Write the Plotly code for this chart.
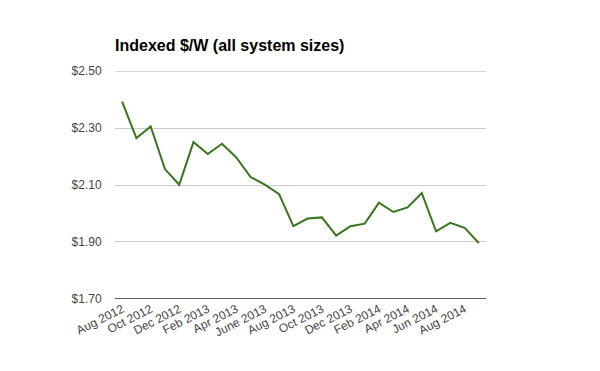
import plotly.graph_objects as go

months = ["Aug 2012", "Sep 2012", "Oct 2012", "Nov 2012", "Dec 2012", "Jan 2013",
          "Feb 2013", "Mar 2013", "Apr 2013", "May 2013", "June 2013", "Jul 2013",
          "Aug 2013", "Sep 2013", "Oct 2013", "Nov 2013", "Dec 2013", "Jan 2014",
          "Feb 2014", "Mar 2014", "Apr 2014", "May 2014", "Jun 2014", "Jul 2014",
          "Aug 2014", "Sep 2014"]
price = [2.393, 2.265, 2.306, 2.156, 2.101, 2.251, 2.209, 2.245, 2.197, 2.128,
         2.101, 2.068, 1.955, 1.982, 1.986, 1.922, 1.955, 1.964, 2.038, 2.005,
         2.021, 2.072, 1.937, 1.967, 1.949, 1.896]
tick_months = months[::2][:13]
y_ticks = [1.70, 1.90, 2.10, 2.30, 2.50]
y_labels = ["$1.70", "$1.90", "$2.10", "$2.30", "$2.50"]

# page body has an 8px margin: figure occupies x 8..600, y 8..371
W, H, OFF = 592, 363, 8

fig = go.Figure(go.Scatter(
    x=months, y=price, mode="lines",
    line=dict(color="#38761d", width=2),
    hoverinfo="skip", showlegend=False,
))

fig.update_layout(
    width=W, height=H,
    margin=dict(l=115 - OFF, r=114, t=71 - OFF, b=72, autoexpand=False),
    paper_bgcolor="white", plot_bgcolor="white",
    font=dict(family="Liberation Sans, Arial, sans-serif", size=12, color="#444444"),
    title=dict(text="<b>Indexed $/W (all system sizes)</b>",
               font=dict(size=16, color="#000000", family="Liberation Sans, Arial, sans-serif"),
               x=(115 - OFF) / W, xanchor="left", xref="container",
               y=1 - (45 - OFF) / H, yanchor="middle", yref="container"),
)
fig.update_xaxes(
    type="category", range=[-0.5, 25.5],
    tickmode="array", tickvals=tick_months, ticktext=tick_months,
    tickangle=-27, showgrid=False, showline=False, zeroline=False,
    ticks="", tickfont=dict(size=12, color="#444444"),
)
fig.update_yaxes(
    range=[1.699, 2.501], tickmode="array", tickvals=y_ticks, ticktext=y_labels,
    showgrid=True, gridcolor="#cccccc", gridwidth=1, zeroline=False,
    showline=False, ticks="outside", ticklen=10, tickcolor="rgba(0,0,0,0)",
    tickfont=dict(size=12, color="#444444"),
)
fig.add_shape(type="line", xref="paper", yref="y", x0=0, x1=1, y0=y_ticks[-1], y1=y_ticks[-1],
              line=dict(color="#cccccc", width=1), layer="below")
fig.add_shape(type="line", xref="paper", yref="y", x0=0, x1=1, y0=y_ticks[0], y1=y_ticks[0],
              line=dict(color="#333333", width=1))

fig.write_html("out.html")
